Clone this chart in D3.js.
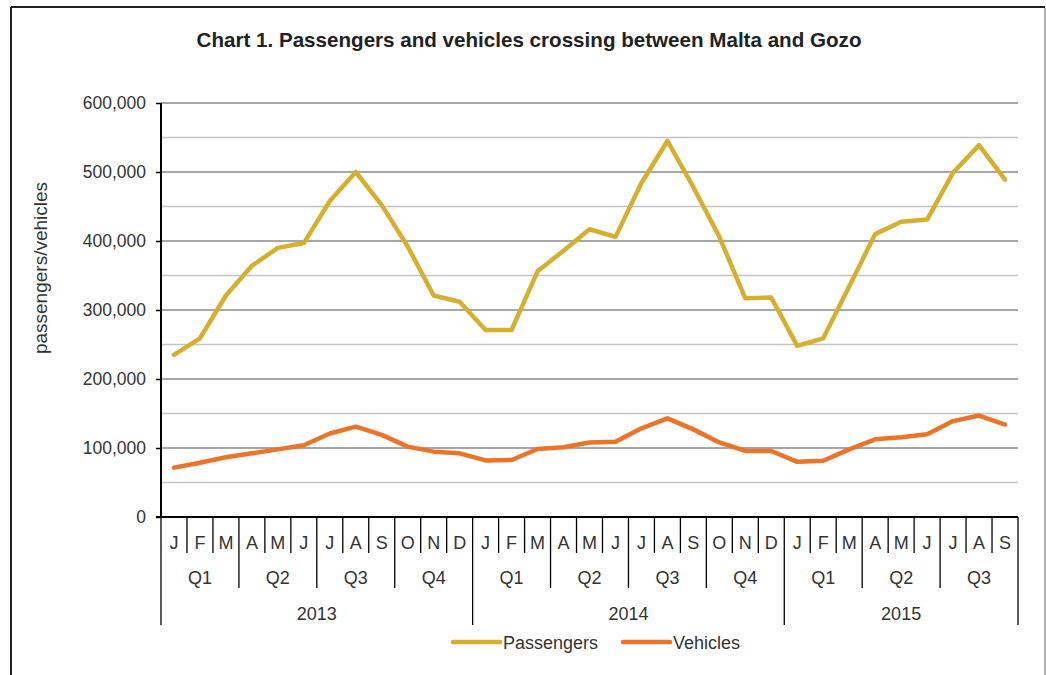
<!DOCTYPE html>
<html>
<head>
<meta charset="utf-8">
<script src="https://cdn.jsdelivr.net/npm/d3@7/dist/d3.min.js"></script>
<style>
  html, body { margin: 0; padding: 0; background: #fff; }
  svg { display: block; font-family: "Liberation Sans", Arial, sans-serif; }
</style>
</head>
<body>
<svg id="chart" width="1046" height="675"></svg>
<script>
const months = ["J","F","M","A","M","J","J","A","S","O","N","D",
                "J","F","M","A","M","J","J","A","S","O","N","D",
                "J","F","M","A","M","J","J","A","S"];
const quarters = ["Q1","Q2","Q3","Q4","Q1","Q2","Q3","Q4","Q1","Q2","Q3"];
const years = ["2013","2014","2015"];
const passengers = [235000,259000,321000,364000,390000,397000,458000,500000,452000,392000,321000,312000,
                    271000,271000,356000,386000,417000,406000,484000,545000,478000,406000,317000,318000,
                    248000,259000,334000,410000,428000,431000,499000,539000,489000];
const vehicles = [71500,78700,86500,92300,98000,104000,121000,131000,119000,102000,94700,92300,
                  82000,82600,98500,101000,108000,109000,128500,143000,127000,108000,95700,95700,
                  80000,81600,98000,112600,115500,120000,139000,147000,134000];
const yTicks = [0,100000,200000,300000,400000,500000,600000];
const seriesNames = ["Passengers","Vehicles"];
const seriesColors = ["#D5AF30","#EC7428"];

const svg = d3.select("#chart");
const L = 161, R = 1018, T = 103, B = 517;
const FS = 18;

// frame
svg.append("line").attr("x1",11).attr("x2",1045).attr("y1",7).attr("y2",7).attr("stroke","#222").attr("stroke-width",2);
svg.append("line").attr("x1",11).attr("x2",11).attr("y1",7).attr("y2",675).attr("stroke","#222").attr("stroke-width",2);
svg.append("line").attr("x1",1045).attr("x2",1045).attr("y1",8).attr("y2",675).attr("stroke","#999").attr("stroke-width",1.5);

// title
svg.append("text").attr("x",529).attr("y",47).attr("text-anchor","middle")
  .attr("font-family","'Liberation Sans Narrow', 'Liberation Sans', Arial, sans-serif")
  .attr("font-weight","bold").attr("font-size",20.6).attr("fill","#222")
  .text("Chart 1. Passengers and vehicles crossing between Malta and Gozo");

const x = d3.scaleBand().domain(d3.range(months.length)).range([L, R]);
const y = d3.scaleLinear().domain([0, 600000]).range([B, T]);

// gridlines
const minor = d3.range(50000, 600000, 100000);
svg.append("g").selectAll("line").data(minor).join("line")
  .attr("x1",L).attr("x2",R).attr("y1",d=>y(d)).attr("y2",d=>y(d))
  .attr("stroke","#c4c4c4").attr("stroke-width",1.5);
svg.append("g").selectAll("line").data(yTicks.filter(d=>d>0)).join("line")
  .attr("x1",L).attr("x2",R).attr("y1",d=>y(d)).attr("y2",d=>y(d))
  .attr("stroke","#8a8a8a").attr("stroke-width",1.5);

// y axis
const yAxis = d3.axisLeft(y).tickValues(yTicks).tickSize(5).tickPadding(10)
  .tickFormat(d => d3.format(",")(d));
const gy = svg.append("g").attr("transform",`translate(${L},0)`).call(yAxis);
gy.select(".domain").remove();
gy.selectAll(".tick line").attr("stroke","#000").attr("stroke-width",1.5);
gy.selectAll(".tick text").attr("font-size",17.5).attr("fill","#333").attr("font-family","'Liberation Sans', Arial, sans-serif");
svg.append("line").attr("x1",L).attr("x2",L).attr("y1",T).attr("y2",B).attr("stroke","#000").attr("stroke-width",2);

// y label
svg.append("text").attr("transform","translate(47,268) rotate(-90)").attr("text-anchor","middle")
  .attr("font-size",19).attr("fill","#333").text("passengers/vehicles");

// x axis baseline
svg.append("line").attr("x1",L-5).attr("x2",R).attr("y1",B).attr("y2",B).attr("stroke","#000").attr("stroke-width",2);

// category dividers
const bw = x.bandwidth();
function i2x(i){ return i < months.length ? x(i) : x(months.length-1) + bw; }
const dividers = d3.range(months.length + 1).map(i => {
  let len = 553;
  if (i % 3 === 0) len = 588;
  if (i % 12 === 0 || i === months.length) len = 625;
  return {i, len};
});
svg.append("g").selectAll("line").data(dividers).join("line")
  .attr("x1",d => i2x(d.i)).attr("x2",d => i2x(d.i))
  .attr("y1",B).attr("y2",d=>d.len).attr("stroke","#000").attr("stroke-width",1.3);

// month labels
svg.append("g").selectAll("text").data(months).join("text")
  .attr("x",(d,i)=>x(i)+bw/2).attr("y",549).attr("text-anchor","middle")
  .attr("font-size",FS).attr("fill","#333").text(d=>d);
// quarter labels
svg.append("g").selectAll("text").data(quarters).join("text")
  .attr("x",(d,i)=>{ const s=i*3, e=Math.min(s+3, months.length); return (i2x(s)+i2x(e))/2; })
  .attr("y",584).attr("text-anchor","middle").attr("font-size",FS).attr("fill","#333").text(d=>d);
// year labels
svg.append("g").selectAll("text").data(years).join("text")
  .attr("x",(d,i)=>{ const s=i*12, e=Math.min(s+12, months.length); return (i2x(s)+i2x(e))/2; })
  .attr("y",620).attr("text-anchor","middle").attr("font-size",FS).attr("fill","#333").text(d=>d);

// lines
const line = d3.line().x((d,i)=>x(i)+bw/2).y(d=>y(d));
[passengers, vehicles].forEach((s,k)=>{
  svg.append("path").datum(s).attr("d",line).attr("fill","none")
    .attr("stroke",seriesColors[k]).attr("stroke-width",4.5)
    .attr("stroke-linejoin","round").attr("stroke-linecap","round");
});

// legend
const legX = [453, 623];
seriesNames.forEach((n,k)=>{
  svg.append("line").attr("x1",legX[k]).attr("x2",legX[k]+47).attr("y1",642).attr("y2",642)
    .attr("stroke",seriesColors[k]).attr("stroke-width",4.5).attr("stroke-linecap","round");
  svg.append("text").attr("x",legX[k]+50).attr("y",649).attr("font-size",FS).attr("fill","#333").text(n);
});
</script>
</body>
</html>
